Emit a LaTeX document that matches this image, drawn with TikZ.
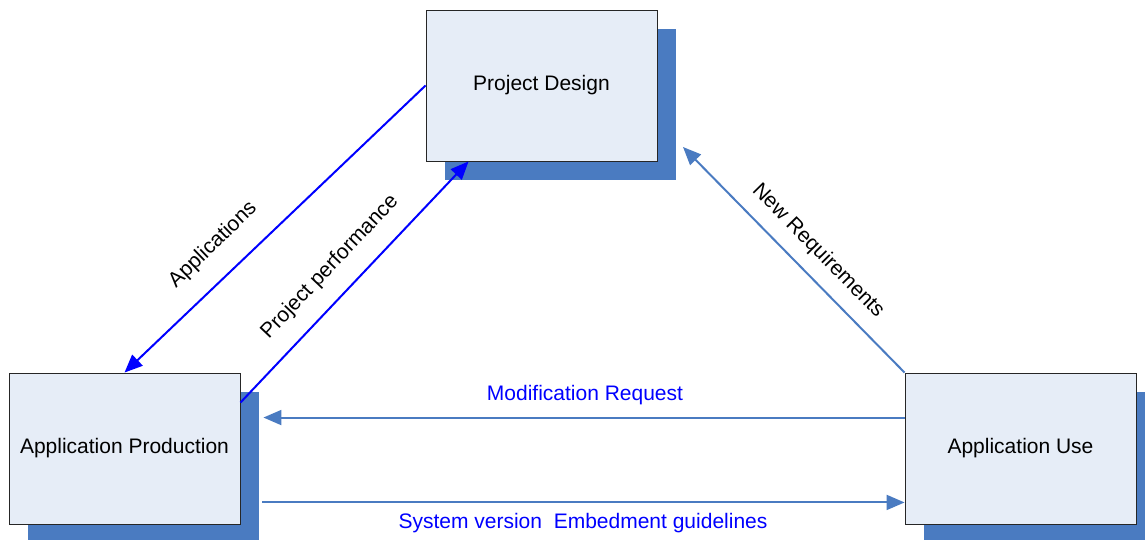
\documentclass[tikz,border=0pt]{standalone}
\usepackage{fontspec}
\setmainfont{Liberation Sans}
\usetikzlibrary{shadows,arrows.meta,calc}
\definecolor{boxfill}{RGB}{230,237,247}
\definecolor{shadowblue}{RGB}{74,123,193}
\definecolor{flowblue}{RGB}{0,0,255}
\begin{document}
\begin{tikzpicture}[x=1pt,y=-1pt,
  font=\fontsize{21}{25}\selectfont,
  stage/.style={draw=black!85, line width=0.9pt, fill=boxfill,
    minimum width=231pt, minimum height=151pt, inner sep=0pt,
    drop shadow={shadow xshift=19pt, shadow yshift=-19pt,
      fill=shadowblue, opacity=1}},
  link/.style={line width=2pt, -{Triangle[length=18pt,width=15pt]}},
  flowlabel/.style={inner sep=0pt, text=black},
  hlabel/.style={inner sep=0pt, text=flowblue}]
  \useasboundingbox (0,0) rectangle (1145,540);

  % the three stages
  \node[stage] (pd) at (541.5,85.5) {Project Design};
  \node[stage] (ap) at (124.5,448.5) {Application Production};
  \node[stage] (au) at (1020.5,448.5) {Application Use};

  % connector end points
  \coordinate (nrTip) at (683,147);
  \coordinate (ppStart) at ($(ap.north east)+(0,30)$);
  \coordinate (ppTip) at ($(pd.south west)+(43,0)$);
  \coordinate (mrStart) at ($(au.north west)+(0,45)$);
  \coordinate (mrTip) at ($(ap.north east)+(23,45)$);
  \coordinate (svStart) at ($(ap.south east)+(22,-22)$);
  \coordinate (svTip) at ($(au.south west)+(0,-22)$);

  % connectors
  \draw[link, flowblue] (pd.west) -- (ap.north);
  \draw[link, flowblue] (ppStart) -- (ppTip);
  \draw[link, shadowblue] (au.north west) -- (nrTip);
  \draw[link, shadowblue] (mrStart) -- (mrTip);
  \draw[link, shadowblue] (svStart) -- (svTip);

  % connector labels
  \node[flowlabel, rotate=44] (lApp) at (213,245) {Applications};
  \node[flowlabel, rotate=46.5] (lPerf) at (330,267) {Project performance};
  \node[flowlabel, rotate=-45.5] (lReq) at (818,251) {New Requirements};
  \node[hlabel] (lMod) at (585,395) {Modification Request};
  \node[hlabel] (lSys) at (583,523) {System version\ \ Embedment guidelines};
\end{tikzpicture}
\end{document}
